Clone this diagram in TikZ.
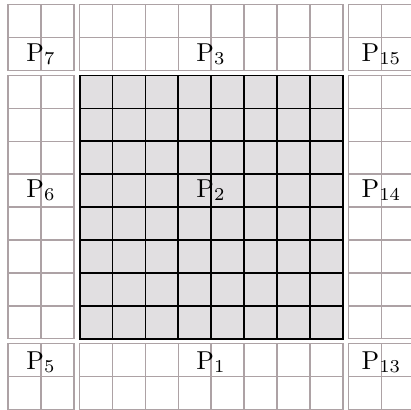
\documentclass[tikz,border=0pt]{standalone}
\definecolor{gridgray}{HTML}{ADA2A5}
\definecolor{mainfill}{HTML}{E1DFE1}
\def\cs{32.9}
\newcommand\gridblock[5]{%
  \foreach \i in {0,...,#3} \draw[#5] ({#1+\i*\cs},#2) -- ({#1+\i*\cs},{#2+#4*\cs});
  \foreach \j in {0,...,#4} \draw[#5] (#1,{#2+\j*\cs}) -- ({#1+#3*\cs},{#2+\j*\cs});
}
\newcommand\plab[1]{\scalebox{2.6}{$\mathrm{P}_{#1}$}}
\begin{document}
\begin{tikzpicture}[x=1bp,y=-1bp,
  gridg/.style={draw=gridgray,line width=1.5bp,line cap=rect},
  gridk/.style={draw=black,line width=1.8bp,line cap=rect},
  lab/.style={anchor=base,inner sep=0pt}]
\useasboundingbox (0,0) rectangle (411,410);
\clip (0,0) rectangle (411,410);
% outer blocks
\gridblock{8}{4.5}{2}{2}{gridg}
\gridblock{79.6}{4.5}{8}{2}{gridg}
\gridblock{348.6}{4.5}{2}{2}{gridg}
\gridblock{8}{75.5}{2}{8}{gridg}
\gridblock{348.6}{75.5}{2}{8}{gridg}
\gridblock{8}{343.6}{2}{2}{gridg}
\gridblock{79.6}{343.6}{8}{2}{gridg}
\gridblock{348.6}{343.6}{2}{2}{gridg}
% main block
\fill[mainfill] (79.6,75.5) rectangle ({79.6+8*\cs},{75.5+8*\cs});
\gridblock{79.6}{75.5}{8}{8}{gridk}
% labels
\node[lab] (p7) at (41,61) {\plab{7}};
\node[lab] (p3) at (211,61) {\plab{3}};
\node[lab] (p15) at (381.5,61) {\plab{15}};
\node[lab] (p6) at (41,197) {\plab{6}};
\node[lab] (p2) at (211,197) {\plab{2}};
\node[lab] (p14) at (381.5,197) {\plab{14}};
\node[lab] (p5) at (41,369) {\plab{5}};
\node[lab] (p1) at (211,369) {\plab{1}};
\node[lab] (p13) at (381.5,369) {\plab{13}};
\end{tikzpicture}
\end{document}
